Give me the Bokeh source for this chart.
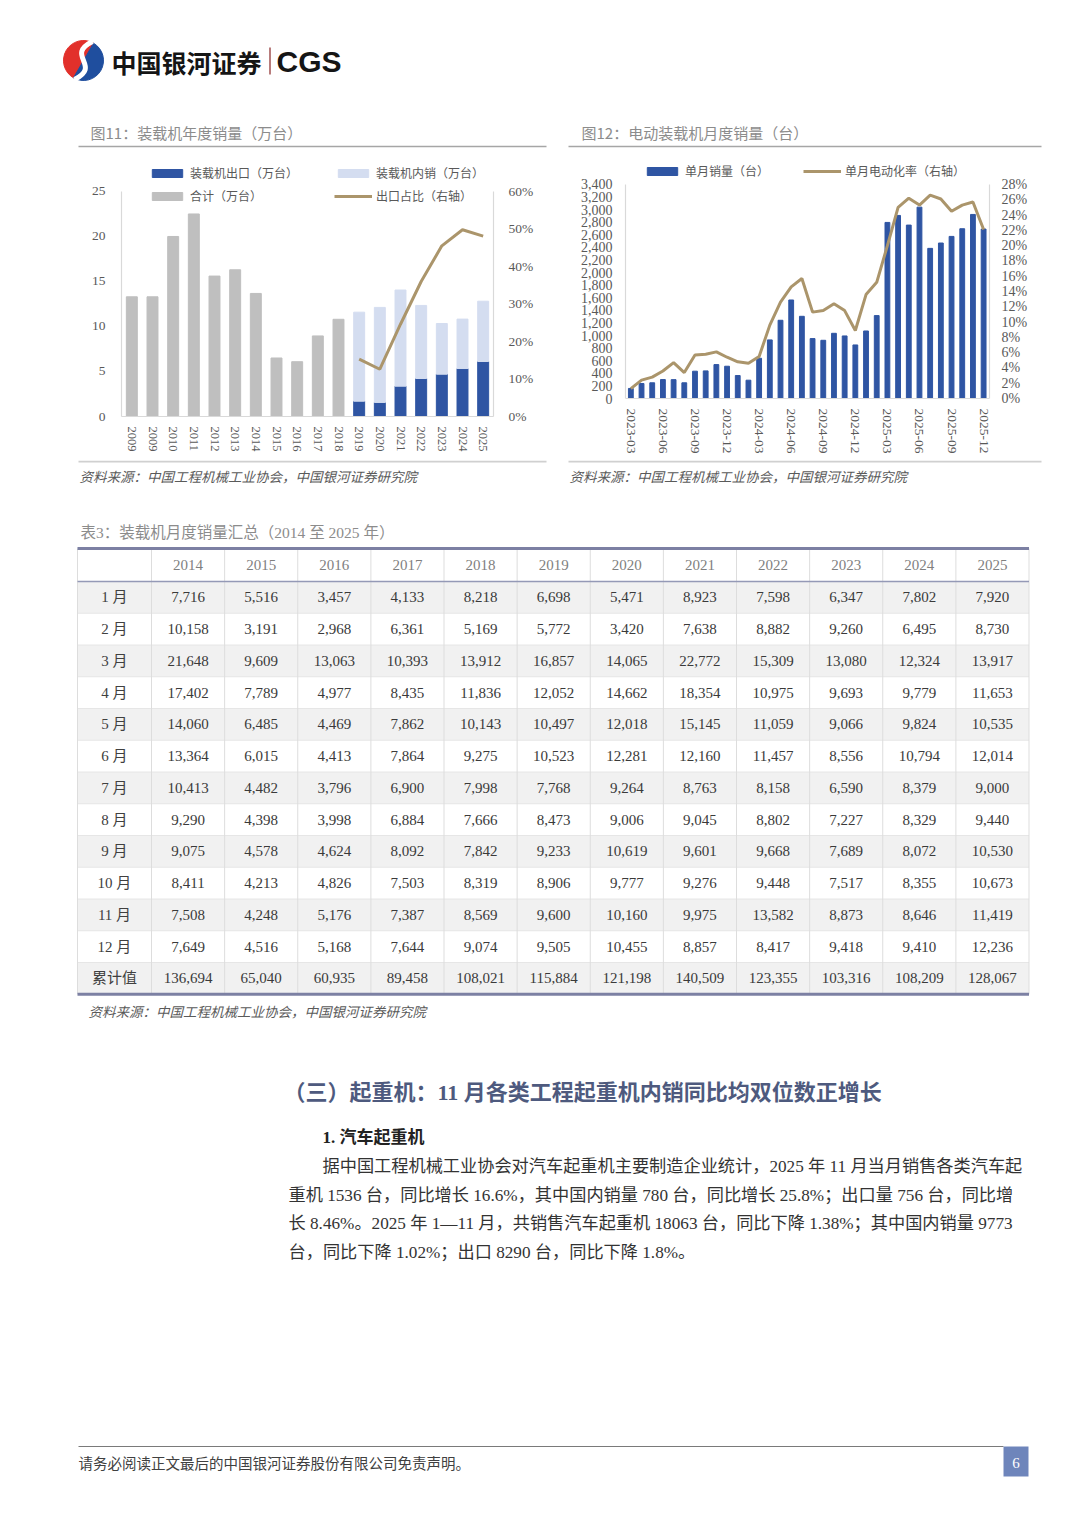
from bokeh.plotting import figure
from bokeh.models import (Range1d, LinearAxis, FixedTicker, PrintfTickFormatter, NumeralTickFormatter,
                          Legend, LegendItem, ColumnDataSource, Spacer)
from bokeh.layouts import column, row
from bokeh.core.properties import value
from bokeh.embed import file_html
from bokeh.resources import INLINE

SERIF = "'Liberation Serif', 'Noto Sans CJK SC', serif"
CJK = "'Noto Sans CJK SC', sans-serif"
LSANS = "'Liberation Sans', 'Noto Sans CJK SC', sans-serif"

BLUE = "#2f55a3"
LIGHT = "#d4ddf0"
GRAY = "#bfbfbf"
GOLD = "#ab956b"
AX_TXT = "#595959"
AX_LINE = "#d9d9d9"

# ---------------- data: chart 11 (万台) ----------------
annual_labels = ["2009", "2009", "2010", "2011", "2012", "2013", "2014", "2015", "2016",
                 "2017", "2018", "2019", "2020", "2021", "2022", "2023", "2024", "2025"]
total_2009_2018 = [13.3, 13.3, 20.0, 22.5, 15.6, 16.3, 13.67, 6.50, 6.09, 8.95, 10.80]
export_2019_2025 = [1.70, 1.56, 3.37, 4.22, 4.70, 5.33, 6.11]
domestic_2019_2025 = [9.89, 10.56, 10.68, 8.12, 5.63, 5.49, 6.70]
export_share_pct = [15.3, 12.6, 24.6, 36.0, 45.5, 49.8, 48.1]
left1_ticks = [0, 5, 10, 15, 20, 25]
right1_ticks = [0, 10, 20, 30, 40, 50, 60]

# ---------------- data: chart 12 (台) ----------------
months = ["2023-03", "2023-04", "2023-05", "2023-06", "2023-07", "2023-08", "2023-09", "2023-10",
          "2023-11", "2023-12", "2024-01", "2024-02", "2024-03", "2024-04", "2024-05", "2024-06",
          "2024-07", "2024-08", "2024-09", "2024-10", "2024-11", "2024-12", "2025-01", "2025-02",
          "2025-03", "2025-04", "2025-05", "2025-06", "2025-07", "2025-08", "2025-09", "2025-10",
          "2025-11", "2025-12"]
ev_sales = [160, 238, 250, 301, 300, 250, 434, 439, 539, 513, 365, 291, 640, 931, 1243, 1565,
            1306, 952, 925, 1036, 994, 851, 1073, 1317, 2797, 2908, 2755, 3040, 2385, 2470, 2575,
            2697, 2924, 2692]
ev_rate_pct = [1.3, 2.4, 2.8, 3.6, 4.7, 3.4, 5.7, 5.8, 6.1, 5.4, 4.8, 4.6, 5.5, 9.6, 12.6, 14.6,
               15.7, 11.3, 11.5, 12.4, 11.5, 8.9, 13.6, 15.2, 20.0, 25.0, 26.2, 25.3, 26.6, 26.1,
               24.5, 25.3, 25.7, 22.1]
month_tick_labels = ["2023-03", "2023-06", "2023-09", "2023-12", "2024-03", "2024-06",
                     "2024-09", "2024-12", "2025-03", "2025-06", "2025-09", "2025-12"]
left2_ticks = list(range(0, 3401, 200))
right2_ticks = list(range(0, 29, 2))

# ---------------- data: table 3 ----------------
table_years = ["2014", "2015", "2016", "2017", "2018", "2019", "2020", "2021", "2022", "2023", "2024", "2025"]
table_rows = ["1 月", "2 月", "3 月", "4 月", "5 月", "6 月", "7 月", "8 月", "9 月", "10 月", "11 月", "12 月", "累计值"]
y2014 = [7716, 10158, 21648, 17402, 14060, 13364, 10413, 9290, 9075, 8411, 7508, 7649, 136694]
y2015 = [5516, 3191, 9609, 7789, 6485, 6015, 4482, 4398, 4578, 4213, 4248, 4516, 65040]
y2016 = [3457, 2968, 13063, 4977, 4469, 4413, 3796, 3998, 4624, 4826, 5176, 5168, 60935]
y2017 = [4133, 6361, 10393, 8435, 7862, 7864, 6900, 6884, 8092, 7503, 7387, 7644, 89458]
y2018 = [8218, 5169, 13912, 11836, 10143, 9275, 7998, 7666, 7842, 8319, 8569, 9074, 108021]
y2019 = [6698, 5772, 16857, 12052, 10497, 10523, 7768, 8473, 9233, 8906, 9600, 9505, 115884]
y2020 = [5471, 3420, 14065, 14662, 12018, 12281, 9264, 9006, 10619, 9777, 10160, 10455, 121198]
y2021 = [8923, 7638, 22772, 18354, 15145, 12160, 8763, 9045, 9601, 9276, 9975, 8857, 140509]
y2022 = [7598, 8882, 15309, 10975, 11059, 11457, 8158, 8802, 9668, 9448, 13582, 8417, 123355]
y2023 = [6347, 9260, 13080, 9693, 9066, 8556, 6590, 7227, 7689, 7517, 8873, 9418, 103316]
y2024 = [7802, 6495, 12324, 9779, 9824, 10794, 8379, 8329, 8072, 8355, 8646, 9410, 108209]
y2025 = [7920, 8730, 13917, 11653, 10535, 12014, 9000, 9440, 10530, 10673, 11419, 12236, 128067]
table_cols = [y2014, y2015, y2016, y2017, y2018, y2019, y2020, y2021, y2022, y2023, y2024, y2025]

# ---------------- texts ----------------
title11 = "图11：装载机年度销量（万台）"
title12 = "图12：电动装载机月度销量（台）"
title_t3 = "表3：装载机月度销量汇总（2014 至 2025 年）"
source_txt = "资料来源：中国工程机械工业协会，中国银河证券研究院"
heading = "（三）起重机：11 月各类工程起重机内销同比均双位数正增长"
subheading = "1. 汽车起重机"
para = ["据中国工程机械工业协会对汽车起重机主要制造企业统计，2025 年 11 月当月销售各类汽车起",
        "重机 1536 台，同比增长 16.6%，其中国内销量 780 台，同比增长 25.8%；出口量 756 台，同比增",
        "长 8.46%。2025 年 1—11 月，共销售汽车起重机 18063 台，同比下降 1.38%；其中国内销量 9773",
        "台，同比下降 1.02%；出口 8290 台，同比下降 1.8%。"]
footer = "请务必阅读正文最后的中国银河证券股份有限公司免责声明。"


def base_fig(w, h, xr, yr, **kw):
    p = figure(width=w, height=h, x_range=xr, y_range=yr, output_backend="svg",
               toolbar_location=None, x_axis_type=None, y_axis_type=None, **kw)
    p.outline_line_color = None
    p.background_fill_color = "white"
    p.border_fill_color = "white"
    return p


def style_axis(ax, size, standoff):
    ax.major_tick_in = 0
    ax.major_tick_out = 0
    ax.minor_tick_in = 0
    ax.minor_tick_out = 0
    ax.major_tick_line_color = None
    ax.minor_tick_line_color = None
    ax.axis_line_color = AX_LINE
    ax.axis_line_width = 1.2
    ax.major_label_text_font = SERIF
    ax.major_label_text_font_size = size
    ax.major_label_text_color = AX_TXT
    ax.major_label_standoff = standoff


def mk_legend(items, loc):
    return Legend(items=items, location=loc, orientation="vertical", padding=0, margin=0,
                  spacing=5, glyph_width=38, glyph_height=10, label_standoff=4, label_height=14,
                  label_text_font=SERIF, label_text_font_size="12px", label_text_color=AX_TXT,
                  border_line_color=None, background_fill_alpha=0)


# ================= chart 11 =================
# frame: y 160..416 (page px); 0 at 416, 25 at 191
p1 = base_fig(468, 310, Range1d(-0.5, 17.5), Range1d(0, 28.44),
              min_border_left=43, min_border_right=53, min_border_top=10, min_border_bottom=44)
p1.extra_y_ranges = {"pct": Range1d(0, 68.26)}
src_tot = ColumnDataSource(dict(x=list(range(len(total_2009_2018))), top=total_2009_2018))
r_tot = p1.vbar(x="x", top="top", width=0.53, source=src_tot, color=GRAY)
src_new = ColumnDataSource(dict(x=list(range(len(total_2009_2018), len(annual_labels))),
                                exp=export_2019_2025, dom=domestic_2019_2025, share=export_share_pct))
r_exp, r_dom = p1.vbar_stack(["exp", "dom"], x="x", width=0.53, color=[BLUE, LIGHT], source=src_new)
r_share = p1.line(x="x", y="share", source=src_new, y_range_name="pct", color=GOLD, line_width=3)

ax = LinearAxis(ticker=FixedTicker(ticks=list(range(len(annual_labels)))),
                major_label_overrides={i: s for i, s in enumerate(annual_labels)},
                major_label_orientation="vertical")
style_axis(ax, "12.5px", 10)
p1.add_layout(ax, "below")
ax = LinearAxis(ticker=FixedTicker(ticks=left1_ticks), bounds=(0, 25))
style_axis(ax, "13.5px", 16)
p1.add_layout(ax, "left")
ax = LinearAxis(y_range_name="pct", ticker=FixedTicker(ticks=right1_ticks), bounds=(0, 60),
                formatter=PrintfTickFormatter(format="%d%%"))
style_axis(ax, "13.5px", 15)
p1.add_layout(ax, "right")

p1.add_layout(mk_legend([LegendItem(label="装载机出口（万台）", renderers=[r_exp]),
                         LegendItem(label="合计（万台）", renderers=[r_tot])], (27, 211)))
p1.add_layout(mk_legend([LegendItem(label="装载机内销（万台）", renderers=[r_dom]),
                         LegendItem(label="出口占比（右轴）", renderers=[r_share])], (213, 211)))

# ================= chart 12 =================
# frame: y 160..416 (same borders as chart 11); 0 at 398, 3400 at 184
p2 = base_fig(474, 310, Range1d(-0.5, 33.55), Range1d(-285.6, 3780.8),
              min_border_left=57, min_border_right=53, min_border_top=10, min_border_bottom=44)
p2.extra_y_ranges = {"rate": Range1d(-2.352, 31.136)}
src2 = ColumnDataSource(dict(x=list(range(len(months))), sales=ev_sales, rate=ev_rate_pct))
r_sales = p2.vbar(x="x", top="sales", width=0.45, source=src2, color=BLUE)
r_rate = p2.line(x="x", y="rate", source=src2, y_range_name="rate", color=GOLD, line_width=3)

tick_pos = [months.index(m) for m in month_tick_labels]
# axis line at the zero level (no ticks / labels of its own)
ax0 = LinearAxis(ticker=FixedTicker(ticks=[]), fixed_location=0)
style_axis(ax0, "12px", 0)
p2.add_layout(ax0, "below")
# month labels, pulled up to sit just under the zero line
ax = LinearAxis(ticker=FixedTicker(ticks=tick_pos),
                major_label_overrides={months.index(m): m for m in month_tick_labels},
                major_label_orientation="vertical")
style_axis(ax, "13.5px", -8)
ax.axis_line_color = None
p2.add_layout(ax, "below")
ax = LinearAxis(ticker=FixedTicker(ticks=left2_ticks), bounds=(0, 3400),
                formatter=NumeralTickFormatter(format="0,0"))
style_axis(ax, "14px", 13)
p2.add_layout(ax, "left")
ax = LinearAxis(y_range_name="rate", ticker=FixedTicker(ticks=right2_ticks), bounds=(0, 28),
                formatter=PrintfTickFormatter(format="%d%%"))
style_axis(ax, "14px", 12)
p2.add_layout(ax, "right")

p2.add_layout(mk_legend([LegendItem(label="单月销量（台）", renderers=[r_sales])], (18, 236)))
p2.add_layout(mk_legend([LegendItem(label="单月电动化率（右轴）", renderers=[r_rate])], (178, 236)))

# ================= top band: logo + chart titles =================
top = base_fig(1072, 150, Range1d(0, 1072), Range1d(150, 0), min_border=0)
top.wedge(x=83, y=60, radius=20, start_angle=60, end_angle=240, start_angle_units="deg",
          end_angle_units="deg", color="#e2302b")
top.wedge(x=83, y=60, radius=20, start_angle=240, end_angle=420, start_angle_units="deg",
          end_angle_units="deg", color="#1f4e9e")
top.bezier(x0=[92], y0=[41], x1=[74], y1=[79], cx0=[64], cy0=[55], cx1=[102], cy1=[65],
           line_color="white", line_width=5)
top.text(x=[111], y=[61], text=["中国银河证券"], text_font=value(CJK), text_font_size="25px",
         text_font_style="bold", text_baseline="middle", text_color="#151515")
top.segment(x0=[269.5], y0=[47], x1=[269.5], y1=[74], line_color="#a05050", line_width=1.5)
top.text(x=[276], y=[61], text=["CGS"], text_font=value(LSANS), text_font_size="30px",
         text_font_style="bold", text_baseline="middle", text_color="#151515")
top.text(x=[90, 581], y=[132, 132], text=[title11, title12], text_font=value(CJK),
         text_font_size="15px", text_baseline="middle", text_color="#8c8c8c")
top.segment(x0=[78, 568], y0=[146, 146], x1=[546, 1041], y1=[146, 146],
            line_color="#a6a6a6", line_width=1.5)

# ================= bottom band: table + text =================
bot = base_fig(1072, 1059, Range1d(0, 1072), Range1d(1519, 460), min_border=0)
bot.segment(x0=[78, 568], y0=[461, 461], x1=[546, 1041], y1=[461, 461],
            line_color="#d0d0d0", line_width=2)
bot.text(x=[79, 569], y=[475, 475], text=[source_txt, source_txt], text_font=value(CJK),
         text_font_size="13.5px", text_font_style="italic", text_baseline="middle", text_color="#5a5a5a")
bot.text(x=[80], y=[532], text=[title_t3], text_font=value(SERIF), text_font_size="15.5px",
         text_baseline="middle", text_color="#8c8c8c")

T_L, T_R = 77.0, 1028.5
FIRST_W = 74.0
COL_W = (T_R - T_L - FIRST_W) / len(table_years)
H_TOP, H_BOT = 548.0, 581.0
ROW_H = 31.75
col_edges = [T_L, T_L + FIRST_W] + [T_L + FIRST_W + COL_W * (i + 1) for i in range(len(table_years))]
row_tops = [H_BOT + ROW_H * k for k in range(len(table_rows))]

bg_top = [t for k, t in enumerate(row_tops) if k % 2 == 0]
bot.quad(left=T_L, right=T_R, top=bg_top, bottom=[t + ROW_H for t in bg_top],
         fill_color="#f1f1f1", line_color=None)
bot.segment(x0=T_L, x1=T_R, y0=row_tops[1:], y1=row_tops[1:], line_color="#e6e6e6", line_width=1)
v_bottom = row_tops[-1] + ROW_H
bot.segment(x0=col_edges, x1=col_edges, y0=H_TOP, y1=v_bottom, line_color="#dddddd", line_width=1)
bot.segment(x0=[T_L], x1=[T_R], y0=[H_TOP], y1=[H_TOP], line_color="#7c80a3", line_width=3)
bot.segment(x0=[T_L], x1=[T_R], y0=[H_BOT], y1=[H_BOT], line_color="#9499b6", line_width=1.5)
bot.segment(x0=[T_L], x1=[T_R], y0=[v_bottom], y1=[v_bottom], line_color="#7c80a3", line_width=3)

col_centers = [(col_edges[i + 1] + col_edges[i + 2]) / 2 for i in range(len(table_years))]
row_centers = [t + ROW_H / 2 for t in row_tops]
hdr_src = ColumnDataSource(dict(x=col_centers, y=[(H_TOP + H_BOT) / 2] * len(table_years), t=table_years))
bot.text(x="x", y="y", text="t", source=hdr_src, text_font=value(SERIF), text_font_size="15px",
         text_align="center", text_baseline="middle", text_color="#7f7f7f")
lab_src = ColumnDataSource(dict(x=[T_L + FIRST_W / 2] * len(table_rows), y=row_centers, t=table_rows))
bot.text(x="x", y="y", text="t", source=lab_src, text_font=value(SERIF), text_font_size="15px",
         text_align="center", text_baseline="middle", text_color="#404040")
cx, cy, ct = [], [], []
for j, col in enumerate(table_cols):
    for k, v in enumerate(col):
        cx.append(col_centers[j])
        cy.append(row_centers[k])
        ct.append(f"{v:,}")
cell_src = ColumnDataSource(dict(x=cx, y=cy, t=ct))
bot.text(x="x", y="y", text="t", source=cell_src, text_font=value(SERIF), text_font_size="15px",
         text_align="center", text_baseline="middle", text_color="#3a3a3a")

bot.text(x=[88], y=[1010], text=[source_txt], text_font=value(CJK), text_font_size="13.5px",
         text_font_style="italic", text_baseline="middle", text_color="#5a5a5a")

bot.text(x=[283], y=[1092], text=[heading], text_font=value(SERIF), text_font_size="22px",
         text_font_style="bold", text_baseline="middle", text_color="#4e5a7e")
bot.text(x=[322], y=[1137], text=[subheading], text_font=value(SERIF), text_font_size="17px",
         text_font_style="bold", text_baseline="middle", text_color="#222222")
bot.text(x=[322, 288, 288, 288], y=[1166, 1195, 1223, 1252], text=para, text_font=value(SERIF),
         text_font_size="17.2px", text_baseline="middle", text_color="#333333")

bot.segment(x0=[78], x1=[1003], y0=[1446], y1=[1446], line_color="#7a7a7a", line_width=1)
bot.quad(left=[1003], right=[1028], top=[1446], bottom=[1476], fill_color="#6e85bb", line_color=None)
bot.text(x=[1015.5], y=[1462], text=["6"], text_font=value(SERIF), text_font_size="15px",
         text_align="center", text_baseline="middle", text_color="white")
bot.text(x=[78], y=[1462], text=[footer], text_font=value(CJK), text_font_size="14.5px",
         text_baseline="middle", text_color="#404040")

charts = row(Spacer(width=78, height=310), p1, Spacer(width=22, height=310), p2,
             Spacer(width=30, height=310))
page = column(top, charts, bot)

with open("out.html", "w") as f:
    f.write(file_html(page, INLINE, title="装载机销量"))
